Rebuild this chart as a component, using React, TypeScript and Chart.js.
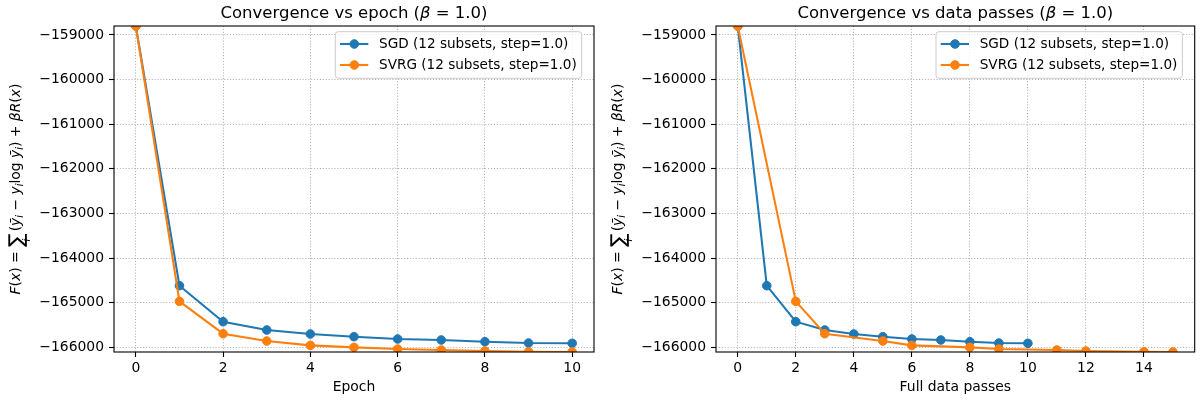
import React, { useEffect, useRef } from "react";
import { Chart, registerables } from "chart.js";

Chart.register(...registerables);

// ---------------- data ----------------
const epochs = [0, 1, 2, 3, 4, 5, 6, 7, 8, 9, 10];
const sgdPasses = [0, 1, 2, 3, 4, 5, 6, 7, 8, 9, 10];
const svrgPasses = [0, 2, 3, 5, 6, 8, 9, 11, 12, 14, 15];
const sgdValues = [-158800, -164619, -165426, -165612, -165702, -165762, -165814, -165836, -165874, -165904, -165910];
const svrgValues = [-158800, -164970, -165695, -165859, -165957, -166002, -166038, -166061, -166083, -166099, -166105];
const seriesLabels = ["SGD (12 subsets, step=1.0)", "SVRG (12 subsets, step=1.0)"];
const panelTitles = ["Convergence vs epoch", "Convergence vs data passes"];
const xAxisTitles = ["Epoch", "Full data passes"];
const yTickValues = [-166000, -165000, -164000, -163000, -162000, -161000, -160000, -159000];
const xTickValuesEpoch = [0, 2, 4, 6, 8, 10];
const xTickValuesPasses = [0, 2, 4, 6, 8, 10, 12, 14];

const FONT = "DejaVu Sans";
const BLUE = "#1f77b4";
const ORANGE = "#ff7f0e";
const FS = 13.9;
const LFS = 13.6;

type Seg = { t: string; it?: boolean; sub?: boolean; sum?: boolean; size?: number };

function segFont(s: Seg, base: number) {
  const size = s.sub ? base * 0.7 : s.size || base;
  return `${s.it ? "italic " : ""}${size}px "${FONT}"`;
}

function segWidth(ctx: CanvasRenderingContext2D, s: Seg, base: number) {
  if (s.sum) {
    ctx.font = `${base * 1.45}px "${FONT}"`;
    return ctx.measureText("∑").width + 2;
  }
  ctx.font = segFont(s, base);
  return ctx.measureText(s.t).width;
}

function drawSegs(ctx: CanvasRenderingContext2D, segs: Seg[], u0: number, base: number) {
  let u = u0;
  for (const s of segs) {
    const w = segWidth(ctx, s, base);
    if (s.sum) {
      ctx.font = `${base * 1.45}px "${FONT}"`;
      const sw = ctx.measureText("∑").width;
      ctx.fillText("∑", u, 2.5);
      ctx.font = `italic ${base * 0.7}px "${FONT}"`;
      const iw = ctx.measureText("i").width;
      ctx.fillText("i", u + sw / 2 - iw / 2, 10);
    } else {
      ctx.font = segFont(s, base);
      ctx.fillText(s.t, u, s.sub ? 3 : 0);
    }
    u += w;
  }
}

const yLabelSegs: Seg[] = [
  { t: "F", it: true },
  { t: "(" },
  { t: "x", it: true },
  { t: ")" },
  { t: " = " },
  { t: "", sum: true },
  { t: "(" },
  { t: "ȳ", it: true },
  { t: "i", it: true, sub: true },
  { t: " − " },
  { t: "y", it: true },
  { t: "i", it: true, sub: true },
  { t: "log " },
  { t: "ȳ", it: true },
  { t: "i", it: true, sub: true },
  { t: ")" },
  { t: " + " },
  { t: "βR", it: true },
  { t: "(" },
  { t: "x", it: true },
  { t: ")" },
];

function makeDecor(panel: number, yLabelX: number) {
  return {
    id: "decor" + panel,
    afterDraw(chart: any) {
      const ctx: CanvasRenderingContext2D = chart.ctx;
      const a = chart.chartArea;
      ctx.save();
      // spines
      ctx.strokeStyle = "#000";
      ctx.lineWidth = 1.1;
      ctx.setLineDash([]);
      ctx.strokeRect(a.left, a.top, a.right - a.left, a.bottom - a.top);

      // legend
      ctx.font = `${LFS}px "${FONT}"`;
      const tw = Math.max(...seriesLabels.map((l) => ctx.measureText(l).width));
      const w = 43.7 + tw + 5;
      const right = a.right - 12.3;
      const left = right - w;
      const top = a.top + 5.7;
      const h = 46.6;
      ctx.beginPath();
      (ctx as any).roundRect(left, top, w, h, 3);
      ctx.fillStyle = "rgba(255,255,255,0.8)";
      ctx.fill();
      ctx.strokeStyle = "#cccccc";
      ctx.lineWidth = 1;
      ctx.stroke();
      const cols = [BLUE, ORANGE];
      seriesLabels.forEach((lab, i) => {
        const y = top + 12.3 + i * 21;
        ctx.strokeStyle = cols[i];
        ctx.lineWidth = 2.08;
        ctx.beginPath();
        ctx.moveTo(left + 4.7, y);
        ctx.lineTo(left + 33, y);
        ctx.stroke();
        ctx.beginPath();
        ctx.arc(left + 19, y, 4.3, 0, Math.PI * 2);
        ctx.fillStyle = cols[i];
        ctx.fill();
        ctx.lineWidth = 1;
        ctx.stroke();
        ctx.fillStyle = "#000";
        ctx.font = `${LFS}px "${FONT}"`;
        ctx.textBaseline = "middle";
        ctx.textAlign = "left";
        ctx.fillText(lab, left + 43.7, y + 0.5);
      });

      // title
      const TS = 16.5;
      const tsegs: Seg[] = [
        { t: panelTitles[panel] + " (", size: TS },
        { t: "β", it: true, size: TS },
        { t: " = 1.0", size: TS },
        { t: ")", size: TS },
      ];
      ctx.textBaseline = "alphabetic";
      ctx.fillStyle = "#000";
      let tw2 = 0;
      for (const s of tsegs) tw2 += segWidth(ctx, s, TS);
      ctx.save();
      ctx.translate((a.left + a.right) / 2, 17.5);
      drawSegs(ctx, tsegs, -tw2 / 2, TS);
      ctx.restore();

      // y label (rotated)
      let lw = 0;
      for (const s of yLabelSegs) lw += segWidth(ctx, s, FS);
      ctx.save();
      ctx.translate(yLabelX, (a.top + a.bottom) / 2);
      ctx.rotate(-Math.PI / 2);
      drawSegs(ctx, yLabelSegs, -lw / 2, FS);
      ctx.restore();

      ctx.restore();
    },
  };
}

function buildConfig(panel: number): any {
  const sgdX = panel === 0 ? epochs : sgdPasses;
  const svrgX = panel === 0 ? epochs : svrgPasses;
  const xTicks = panel === 0 ? xTickValuesEpoch : xTickValuesPasses;
  const allX = [...sgdX, ...svrgX];
  const allY = [...sgdValues, ...svrgValues];
  const xmin0 = Math.min(...allX);
  const xmax0 = Math.max(...allX);
  const xm = (xmax0 - xmin0) * 0.05;
  const yMin = Math.min(...allY);
  const yMax = Math.max(...allY);
  const tickFont = { family: FONT, size: FS };
  const grid = {
    color: "#b0b0b0",
    lineWidth: 1,
    tickColor: "#000",
    tickLength: 5,
    tickWidth: 1.1,
    tickBorderDash: [],
  };
  const border = { display: false, dash: [1.1, 1.8] };
  const common = {
    type: "line",
    showLine: true,
    borderWidth: 2.08,
    pointRadius: 4.3,
    pointBorderWidth: 1,
    pointHoverRadius: 4.3,
    tension: 0,
    clip: 0,
  };
  return {
    type: "scatter",
    data: {
      datasets: [
        {
          ...common,
          label: seriesLabels[1],
          data: svrgX.map((x, i) => ({ x, y: svrgValues[i] })),
          borderColor: ORANGE,
          backgroundColor: ORANGE,
          pointBackgroundColor: ORANGE,
          pointBorderColor: ORANGE,
          order: 0,
        },
        {
          ...common,
          label: seriesLabels[0],
          data: sgdX.map((x, i) => ({ x, y: sgdValues[i] })),
          borderColor: BLUE,
          backgroundColor: BLUE,
          pointBackgroundColor: BLUE,
          pointBorderColor: BLUE,
          order: 1,
        },
      ],
    },
    options: {
      responsive: false,
      animation: false,
      devicePixelRatio: 1,
      events: [],
      layout: { padding: { top: 26, right: panel === 0 ? 6 : 4, bottom: 0, left: 0 } },
      plugins: { legend: { display: false }, title: { display: false }, tooltip: { enabled: false } },
      scales: {
        x: {
          type: "linear",
          min: xmin0 - xm,
          max: xmax0 + xm,
          afterBuildTicks: (s: any) => {
            s.ticks = xTicks.map((v) => ({ value: v }));
          },
          afterFit: (s: any) => {
            s.height = 48;
          },
          ticks: {
            font: tickFont,
            color: "#000",
            padding: 3,
            maxRotation: 0,
            autoSkip: false,
          },
          grid,
          border,
          title: {
            display: true,
            text: xAxisTitles[panel],
            font: tickFont,
            color: "#000",
            padding: { top: 0, bottom: 4 },
          },
        },
        y: {
          type: "linear",
          min: yMin,
          max: yMax,
          afterBuildTicks: (s: any) => {
            s.ticks = yTickValues.map((v) => ({ value: v }));
          },
          afterFit: (s: any) => {
            s.width = panel === 0 ? 114 : 116;
          },
          ticks: {
            font: tickFont,
            color: "#000",
            padding: 5,
            autoSkip: false,
            callback: (v: number) => (v < 0 ? "\u2212" : "") + Math.abs(v).toFixed(0),
          },
          grid,
          border,
        },
      },
    },
    plugins: [makeDecor(panel, panel === 0 ? 20 : 22)],
  };
}

function Panel({ panel }: { panel: number }) {
  const ref = useRef<HTMLCanvasElement>(null);
  useEffect(() => {
    if (!ref.current) return;
    const chart = new Chart(ref.current, buildConfig(panel));
    return () => chart.destroy();
  }, [panel]);
  return (
    <canvas
      ref={ref}
      width={600}
      height={400}
      style={{ position: "absolute", left: panel * 600, top: 0, width: 600, height: 400, display: "block" }}
    />
  );
}

export default function App() {
  return (
    <div style={{ position: "fixed", left: 0, top: 0, width: 1200, height: 400, background: "#fff" }}>
      <Panel panel={0} />
      <Panel panel={1} />
    </div>
  );
}
